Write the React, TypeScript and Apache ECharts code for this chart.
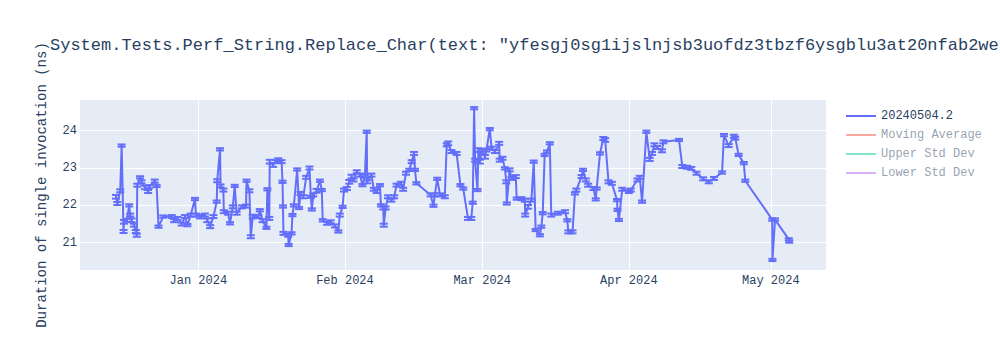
import React, { useEffect, useRef } from "react";
import * as echarts from "echarts";

const TITLE =
  'System.Tests.Perf_String.Replace_Char(text: "yfesgj0sg1ijslnjsb3uofdz3tbzf6ysgblu3at20nfab2we';
const Y_TITLE = "Duration of single invocation (ns)";
const SERIES_NAME = "20240504.2";
const LEGEND_ITEMS = ["20240504.2", "Moving Average", "Upper Std Dev", "Lower Std Dev"];
const LEGEND_COLORS = ["#636efa", "#EF553B", "#00cc96", "#ab63fa"];
const LEGEND_VISIBLE = [true, false, false, false];
const MONTHS = ["Jan", "Feb", "Mar", "Apr", "May", "Jun", "Jul", "Aug", "Sep", "Oct", "Nov", "Dec"];
const X_RANGE = ["2023-12-07 00:00", "2024-05-12 16:00"];
const Y_RANGE = [20.27, 24.82];

// [timestamp, mean (ns), error (ns)]
const measurements: [string, number, number][] = [
  ["2023-12-14 14:24", 22.23, 0.05],
  ["2023-12-14 21:36", 22.05, 0.04],
  ["2023-12-15 12:00", 22.39, 0.04],
  ["2023-12-15 19:12", 23.6, 0.03],
  ["2023-12-16 04:48", 21.3, 0.04],
  ["2023-12-16 07:12", 21.56, 0.05],
  ["2023-12-16 21:36", 21.6, 0.04],
  ["2023-12-17 09:36", 22.0, 0.03],
  ["2023-12-17 14:24", 21.74, 0.04],
  ["2023-12-17 21:36", 21.6, 0.05],
  ["2023-12-18 09:36", 21.47, 0.04],
  ["2023-12-18 19:12", 21.3, 0.04],
  ["2023-12-19 00:00", 21.2, 0.04],
  ["2023-12-19 02:24", 22.54, 0.04],
  ["2023-12-19 16:48", 22.75, 0.03],
  ["2023-12-20 00:00", 22.63, 0.04],
  ["2023-12-20 16:48", 22.48, 0.05],
  ["2023-12-21 09:36", 22.37, 0.04],
  ["2023-12-21 14:24", 22.5, 0.04],
  ["2023-12-22 19:12", 22.65, 0.04],
  ["2023-12-23 04:48", 22.52, 0.03],
  ["2023-12-23 14:24", 21.43, 0.03],
  ["2023-12-24 14:24", 21.7, 0.03],
  ["2023-12-26 09:36", 21.7, 0.04],
  ["2023-12-26 21:36", 21.59, 0.04],
  ["2023-12-27 14:24", 21.65, 0.04],
  ["2023-12-28 12:00", 21.5, 0.04],
  ["2023-12-29 04:48", 21.7, 0.04],
  ["2023-12-29 16:48", 21.47, 0.03],
  ["2023-12-30 09:36", 21.74, 0.04],
  ["2023-12-31 07:12", 22.17, 0.03],
  ["2023-12-31 12:00", 21.74, 0.04],
  ["2024-01-01 08:24", 21.7, 0.05],
  ["2024-01-02 09:36", 21.74, 0.04],
  ["2024-01-02 21:36", 21.6, 0.05],
  ["2024-01-03 12:00", 21.43, 0.04],
  ["2024-01-04 04:48", 21.7, 0.04],
  ["2024-01-04 21:36", 22.1, 0.03],
  ["2024-01-05 00:00", 22.66, 0.04],
  ["2024-01-05 14:24", 23.5, 0.03],
  ["2024-01-05 16:48", 22.52, 0.04],
  ["2024-01-06 07:12", 22.41, 0.04],
  ["2024-01-06 09:36", 21.83, 0.04],
  ["2024-01-07 07:12", 21.79, 0.04],
  ["2024-01-07 16:48", 21.52, 0.03],
  ["2024-01-08 07:12", 21.96, 0.04],
  ["2024-01-08 16:48", 22.52, 0.03],
  ["2024-01-09 02:24", 21.79, 0.04],
  ["2024-01-10 04:48", 21.96, 0.04],
  ["2024-01-11 02:24", 21.98, 0.04],
  ["2024-01-11 04:48", 22.66, 0.03],
  ["2024-01-11 19:12", 22.39, 0.04],
  ["2024-01-12 02:24", 21.16, 0.04],
  ["2024-01-12 12:00", 21.7, 0.05],
  ["2024-01-13 16:48", 21.7, 0.04],
  ["2024-01-14 00:00", 21.87, 0.03],
  ["2024-01-14 14:24", 21.59, 0.04],
  ["2024-01-15 09:36", 21.4, 0.03],
  ["2024-01-15 14:24", 22.43, 0.03],
  ["2024-01-16 00:00", 21.65, 0.04],
  ["2024-01-16 02:24", 23.17, 0.05],
  ["2024-01-16 19:12", 23.08, 0.05],
  ["2024-01-17 12:00", 23.17, 0.04],
  ["2024-01-17 21:36", 23.21, 0.05],
  ["2024-01-18 14:24", 23.17, 0.04],
  ["2024-01-18 19:12", 22.63, 0.03],
  ["2024-01-18 21:36", 21.97, 0.03],
  ["2024-01-19 00:00", 21.25, 0.04],
  ["2024-01-20 00:00", 21.2, 0.04],
  ["2024-01-20 02:24", 20.94, 0.03],
  ["2024-01-20 16:48", 21.25, 0.03],
  ["2024-01-20 21:36", 21.74, 0.03],
  ["2024-01-21 04:48", 22.0, 0.03],
  ["2024-01-21 21:36", 22.96, 0.03],
  ["2024-01-22 07:12", 21.93, 0.03],
  ["2024-01-22 14:24", 22.32, 0.04],
  ["2024-01-23 04:48", 22.23, 0.04],
  ["2024-01-23 19:12", 22.75, 0.04],
  ["2024-01-24 12:00", 23.0, 0.04],
  ["2024-01-24 19:12", 22.23, 0.03],
  ["2024-01-25 00:00", 21.89, 0.03],
  ["2024-01-25 07:12", 22.28, 0.04],
  ["2024-01-26 00:00", 22.39, 0.05],
  ["2024-01-26 16:48", 22.66, 0.03],
  ["2024-01-27 02:24", 22.41, 0.03],
  ["2024-01-27 07:12", 21.6, 0.03],
  ["2024-01-28 04:48", 21.52, 0.04],
  ["2024-01-29 00:00", 21.56, 0.04],
  ["2024-01-29 21:36", 21.45, 0.04],
  ["2024-01-30 14:24", 21.3, 0.03],
  ["2024-01-30 21:36", 21.74, 0.04],
  ["2024-01-31 12:00", 21.96, 0.03],
  ["2024-01-31 19:12", 22.41, 0.04],
  ["2024-02-01 09:36", 22.45, 0.04],
  ["2024-02-01 21:36", 22.63, 0.05],
  ["2024-02-02 09:36", 22.77, 0.05],
  ["2024-02-02 19:12", 22.68, 0.04],
  ["2024-02-03 12:00", 22.9, 0.04],
  ["2024-02-04 04:48", 22.81, 0.04],
  ["2024-02-04 16:48", 22.54, 0.03],
  ["2024-02-05 04:48", 22.78, 0.04],
  ["2024-02-05 14:24", 23.97, 0.03],
  ["2024-02-05 16:48", 22.63, 0.04],
  ["2024-02-06 14:24", 22.81, 0.04],
  ["2024-02-07 02:24", 22.43, 0.04],
  ["2024-02-07 16:48", 22.37, 0.04],
  ["2024-02-08 09:36", 22.54, 0.03],
  ["2024-02-08 14:24", 22.0, 0.03],
  ["2024-02-09 02:24", 21.93, 0.04],
  ["2024-02-09 04:48", 21.47, 0.04],
  ["2024-02-09 14:24", 21.93, 0.04],
  ["2024-02-10 02:24", 22.23, 0.04],
  ["2024-02-10 19:12", 22.14, 0.04],
  ["2024-02-11 09:36", 22.23, 0.04],
  ["2024-02-11 21:36", 22.54, 0.04],
  ["2024-02-12 19:12", 22.59, 0.04],
  ["2024-02-13 07:12", 22.43, 0.04],
  ["2024-02-13 21:36", 22.86, 0.04],
  ["2024-02-14 14:24", 22.95, 0.03],
  ["2024-02-15 02:24", 23.17, 0.04],
  ["2024-02-15 14:24", 23.39, 0.04],
  ["2024-02-15 19:12", 22.95, 0.03],
  ["2024-02-16 02:24", 22.59, 0.03],
  ["2024-02-19 02:24", 22.28, 0.04],
  ["2024-02-19 16:48", 21.99, 0.03],
  ["2024-02-20 00:00", 22.28, 0.04],
  ["2024-02-20 12:00", 22.71, 0.03],
  ["2024-02-21 02:24", 22.28, 0.04],
  ["2024-02-22 02:24", 22.23, 0.04],
  ["2024-02-22 12:00", 23.62, 0.04],
  ["2024-02-22 19:12", 23.66, 0.05],
  ["2024-02-23 12:00", 23.44, 0.04],
  ["2024-02-24 14:24", 23.39, 0.04],
  ["2024-02-25 09:36", 22.54, 0.03],
  ["2024-02-26 00:00", 22.45, 0.03],
  ["2024-02-27 00:00", 21.65, 0.04],
  ["2024-02-27 16:48", 21.65, 0.04],
  ["2024-02-28 00:00", 22.07, 0.03],
  ["2024-02-28 07:12", 24.6, 0.03],
  ["2024-02-28 12:00", 23.21, 0.04],
  ["2024-02-29 00:00", 22.41, 0.03],
  ["2024-02-29 04:48", 23.48, 0.05],
  ["2024-02-29 12:00", 23.17, 0.05],
  ["2024-02-29 21:36", 23.44, 0.05],
  ["2024-03-01 14:24", 23.3, 0.05],
  ["2024-03-01 21:36", 23.48, 0.04],
  ["2024-03-02 14:24", 24.04, 0.03],
  ["2024-03-03 00:00", 23.53, 0.04],
  ["2024-03-03 16:48", 23.44, 0.04],
  ["2024-03-04 14:24", 23.66, 0.04],
  ["2024-03-04 16:48", 23.21, 0.04],
  ["2024-03-05 07:12", 23.26, 0.04],
  ["2024-03-05 19:12", 22.99, 0.03],
  ["2024-03-06 02:24", 22.63, 0.04],
  ["2024-03-06 04:48", 22.05, 0.03],
  ["2024-03-06 19:12", 22.95, 0.04],
  ["2024-03-07 04:48", 22.72, 0.04],
  ["2024-03-08 02:24", 22.77, 0.04],
  ["2024-03-08 07:12", 22.18, 0.03],
  ["2024-03-09 07:12", 22.18, 0.04],
  ["2024-03-10 00:00", 22.14, 0.04],
  ["2024-03-10 02:24", 21.74, 0.04],
  ["2024-03-10 16:48", 21.96, 0.05],
  ["2024-03-11 09:36", 22.14, 0.04],
  ["2024-03-11 21:36", 23.17, 0.03],
  ["2024-03-12 07:12", 21.34, 0.03],
  ["2024-03-13 04:48", 21.2, 0.03],
  ["2024-03-13 12:00", 21.43, 0.03],
  ["2024-03-13 19:12", 21.79, 0.03],
  ["2024-03-14 04:48", 23.35, 0.03],
  ["2024-03-14 16:48", 23.44, 0.03],
  ["2024-03-15 07:12", 23.66, 0.03],
  ["2024-03-15 14:24", 21.74, 0.04],
  ["2024-03-17 00:00", 21.79, 0.04],
  ["2024-03-18 12:00", 21.83, 0.04],
  ["2024-03-19 00:00", 21.6, 0.03],
  ["2024-03-19 04:48", 21.29, 0.04],
  ["2024-03-20 02:24", 21.29, 0.04],
  ["2024-03-20 14:24", 22.32, 0.03],
  ["2024-03-20 21:36", 22.41, 0.04],
  ["2024-03-22 00:00", 22.77, 0.04],
  ["2024-03-22 07:12", 22.95, 0.03],
  ["2024-03-22 21:36", 22.68, 0.04],
  ["2024-03-23 09:36", 22.54, 0.04],
  ["2024-03-24 12:00", 22.45, 0.04],
  ["2024-03-25 00:00", 22.16, 0.03],
  ["2024-03-25 04:48", 22.45, 0.03],
  ["2024-03-25 21:36", 23.39, 0.03],
  ["2024-03-26 14:24", 23.79, 0.04],
  ["2024-03-27 00:00", 23.75, 0.05],
  ["2024-03-27 16:48", 22.63, 0.04],
  ["2024-03-28 09:36", 22.59, 0.04],
  ["2024-03-29 12:00", 22.14, 0.03],
  ["2024-03-29 14:24", 21.88, 0.03],
  ["2024-03-29 21:36", 21.61, 0.03],
  ["2024-03-30 14:24", 22.43, 0.04],
  ["2024-04-01 00:00", 22.37, 0.04],
  ["2024-04-01 09:36", 22.41, 0.04],
  ["2024-04-02 19:12", 22.68, 0.04],
  ["2024-04-03 07:12", 22.75, 0.04],
  ["2024-04-03 19:12", 22.1, 0.03],
  ["2024-04-04 16:48", 23.97, 0.03],
  ["2024-04-05 09:36", 23.23, 0.04],
  ["2024-04-05 21:36", 23.39, 0.04],
  ["2024-04-06 09:36", 23.62, 0.04],
  ["2024-04-07 00:00", 23.55, 0.04],
  ["2024-04-08 00:00", 23.46, 0.04],
  ["2024-04-08 07:12", 23.7, 0.04],
  ["2024-04-11 14:24", 23.75, 0.03],
  ["2024-04-12 07:12", 23.04, 0.04],
  ["2024-04-13 07:12", 23.02, 0.04],
  ["2024-04-14 04:48", 22.99, 0.04],
  ["2024-04-15 07:12", 22.86, 0.04],
  ["2024-04-16 16:48", 22.71, 0.04],
  ["2024-04-17 21:36", 22.63, 0.04],
  ["2024-04-19 00:00", 22.72, 0.04],
  ["2024-04-20 16:48", 22.88, 0.03],
  ["2024-04-21 02:24", 23.88, 0.03],
  ["2024-04-22 02:24", 23.6, 0.04],
  ["2024-04-23 04:48", 23.85, 0.04],
  ["2024-04-23 12:00", 23.8, 0.04],
  ["2024-04-24 04:48", 23.35, 0.03],
  ["2024-04-25 07:12", 23.13, 0.03],
  ["2024-04-25 14:24", 22.66, 0.03],
  ["2024-05-01 07:12", 21.62, 0.03],
  ["2024-05-01 08:24", 20.54, 0.03],
  ["2024-05-01 21:36", 21.62, 0.03],
  ["2024-05-04 19:12", 21.09, 0.03],
  ["2024-05-04 21:36", 21.03, 0.03],
];

const FONT = '"Liberation Mono", "Courier New", monospace';
const toMs = (s: string) => Date.parse(s.replace(" ", "T") + ":00Z");

export default function App() {
  const ref = useRef<HTMLDivElement>(null);

  useEffect(() => {
    if (!ref.current) return;
    const chart = echarts.init(ref.current, undefined, { renderer: "svg" });
    const pts = measurements.map(([d, m, e]) => [toMs(d), m, e]);
    const color = LEGEND_COLORS[0];

    const legendGraphics: any[] = [];
    LEGEND_ITEMS.forEach((name, i) => {
      const y = 116 + i * 19;
      const op = LEGEND_VISIBLE[i] ? 1 : 0.5;
      legendGraphics.push({
        type: "line",
        shape: { x1: 846, y1: y, x2: 876, y2: y },
        style: { stroke: LEGEND_COLORS[i], lineWidth: 2, opacity: op },
      });
      legendGraphics.push({
        type: "text",
        x: 881,
        y,
        style: {
          text: name,
          fill: "#2a3f5f",
          fontFamily: FONT,
          fontSize: 12,
          textVerticalAlign: "middle",
          opacity: op,
        },
      });
    });

    chart.setOption({
      animation: false,
      useUTC: true,
      backgroundColor: "#ffffff",
      title: {
        text: TITLE,
        left: 45,
        top: 32,
        textStyle: { fontFamily: FONT, fontSize: 17, fontWeight: "normal", color: "#2a3f5f" },
      },
      grid: {
        left: 80,
        top: 100,
        width: 746,
        height: 170,
        show: true,
        backgroundColor: "#E5ECF6",
        borderWidth: 0,
      },
      xAxis: {
        type: "time",
        min: toMs(X_RANGE[0]),
        max: toMs(X_RANGE[1]),
        minInterval: 28 * 86400000,
        maxInterval: 31 * 86400000,
        axisLine: { show: false },
        axisTick: { show: false },
        splitLine: { show: true, showMinLine: false, showMaxLine: false, lineStyle: { color: "#ffffff", width: 1 } },
        axisLabel: {
          color: "#2a3f5f",
          fontFamily: FONT,
          fontSize: 12,
          margin: 5,
          hideOverlap: false,
          formatter: (v: number) => {
            const d = new Date(v);
            return `${MONTHS[d.getUTCMonth()]} ${d.getUTCFullYear()}`;
          },
        },
      },
      yAxis: {
        type: "value",
        min: Y_RANGE[0],
        max: Y_RANGE[1],
        splitNumber: 4,
        axisLine: { show: false },
        axisTick: { show: false },
        splitLine: { show: true, showMinLine: false, showMaxLine: false, lineStyle: { color: "#ffffff", width: 1 } },
        axisLabel: {
          color: "#2a3f5f",
          fontFamily: FONT,
          fontSize: 12,
          margin: 3,
          showMinLabel: false,
          showMaxLabel: false,
        },
      },
      graphic: [
        {
          type: "text",
          x: 42,
          y: 185,
          rotation: Math.PI / 2,
          style: {
            text: Y_TITLE,
            fill: "#2a3f5f",
            fontFamily: FONT,
            fontSize: 14,
            textAlign: "center",
            textVerticalAlign: "middle",
          },
        },
        ...legendGraphics,
      ],
      series: [
        {
          name: SERIES_NAME + " err",
          type: "custom",
          data: pts,
          encode: { x: 0, y: 1 },
          clip: true,
          z: 2,
          renderItem: (params: any, api: any) => {
            const x = api.value(0);
            const m = api.value(1);
            const e = api.value(2);
            const top = api.coord([x, m + e]);
            const bot = api.coord([x, m - e]);
            const w = 4;
            const st = { stroke: color, lineWidth: 2 };
            return {
              type: "group",
              children: [
                { type: "line", shape: { x1: top[0], y1: top[1], x2: bot[0], y2: bot[1] }, style: st },
                { type: "line", shape: { x1: top[0] - w, y1: top[1], x2: top[0] + w, y2: top[1] }, style: st },
                { type: "line", shape: { x1: bot[0] - w, y1: bot[1], x2: bot[0] + w, y2: bot[1] }, style: st },
              ],
            };
          },
        },
        {
          name: SERIES_NAME,
          type: "line",
          data: pts.map((p) => [p[0], p[1]]),
          showSymbol: false,
          symbol: "none",
          z: 3,
          lineStyle: { color, width: 2 },
        },
      ],
    });

    return () => chart.dispose();
  }, []);

  return (
    <div
      ref={ref}
      style={{ position: "fixed", left: 0, top: 0, width: 1000, height: 350 }}
    />
  );
}
